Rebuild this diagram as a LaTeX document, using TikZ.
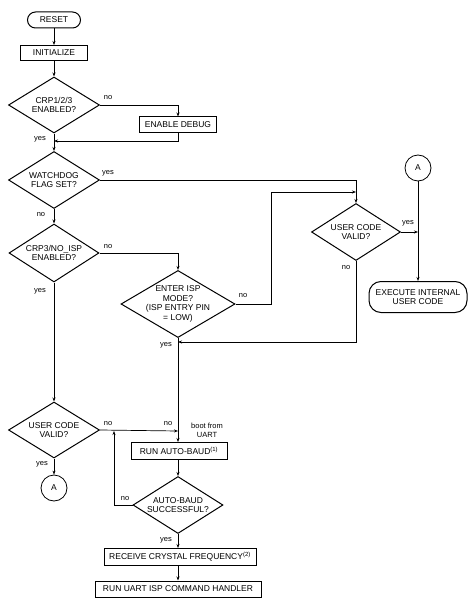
\documentclass[tikz,border=0pt]{standalone}
\usepackage{fontspec}
\setmainfont{Liberation Sans}
\usetikzlibrary{shapes.geometric,arrows.meta}

\begin{document}
\begin{tikzpicture}[x=1pt,y=-1pt,
  >={Stealth[length=4pt,width=3pt]},
  font=\fontsize{8.5}{9.7}\selectfont,
  box/.style={draw,line width=1pt,minimum height=16pt,inner sep=0pt},
  terminal/.style={draw,line width=1pt,rounded corners=8pt,inner sep=0pt,align=center},
  decision/.style={draw,diamond,aspect=1.6,line width=1pt,inner sep=0pt,align=center},
  connector/.style={draw,circle,line width=0.8pt,minimum size=26pt,inner sep=0pt},
  flow/.style={->,line width=0.7pt},
  tag/.style={font=\fontsize{7.5}{9}\selectfont,inner sep=0pt}]
\useasboundingbox (0,0) rectangle (474,604);

% Main column
\node[terminal,minimum width=53pt,minimum height=16pt] (reset) at (54,20) {RESET};
\node[box,minimum width=67pt,minimum height=15pt] (init) at (54,53) {INITIALIZE};
\node[decision,minimum width=91pt,minimum height=56pt] (crp) at (54,105) {CRP1/2/3\\ENABLED?};
\node[box,minimum width=77pt] (debug) at (178,125) {ENABLE DEBUG};
\node[decision,minimum width=91pt,minimum height=57pt] (wdog) at (54,180) {WATCHDOG\\FLAG SET?};
\node[decision,minimum width=90pt,minimum height=58pt] (crp3) at (54,253) {CRP3/NO\_ISP\\ENABLED?};
\node[decision,inner sep=-3pt,minimum width=114pt,minimum height=66pt] (isp) at (178,304) {ENTER ISP\\MODE?\\(ISP ENTRY PIN\\= LOW)};
\node[decision,minimum width=91pt,minimum height=56pt] (ucleft) at (54,430) {USER CODE\\VALID?};
\node[connector] (aleft) at (54,488) {A};

% Right column
\node[decision,minimum width=89pt,minimum height=57pt] (ucright) at (356,232) {USER CODE\\VALID?};
\node[connector] (aright) at (418,168) {A};
\node[terminal,minimum width=98pt,minimum height=31pt,rounded corners=12pt] (exec) at (418,297) {EXECUTE INTERNAL\\USER CODE};

% UART boot
\node[box,minimum width=96pt,minimum height=17pt] (autobaud) at (179,451) {RUN AUTO-BAUD\textsuperscript{(1)}};
\node[decision,minimum width=90pt,minimum height=57pt] (abok) at (178,505) {AUTO-BAUD\\SUCCESSFUL?};
\node[box,minimum width=152pt,minimum height=17pt] (crystal) at (180,557) {RECEIVE CRYSTAL FREQUENCY\textsuperscript{(2)}};
\node[box,minimum width=166pt] (handler) at (178,589) {RUN UART ISP COMMAND HANDLER};

% Junctions
\coordinate (crpjoin) at (54,141);
\coordinate (ispturn) at (271,304);
\coordinate (ucjoin) at (356,192);
\coordinate (ispmerge) at (178,342);
\coordinate (execjoin) at (418,232);
\coordinate (uartjoin) at (178,431);
\coordinate (abjoin) at (114,431);

% Straight arrows
\foreach \a/\b in {reset/init,init/crp,crp/wdog,wdog/crp3,crp3/ucleft,ucleft/aleft,aright/exec}
  \draw[flow] (\a) -- (\b);
\draw[flow] (isp.south) -- (isp.south |- autobaud.north);
\draw[flow] (autobaud.south -| abok.north) -- (abok.north);
\draw[flow] (abok.south) -- (abok.south |- crystal.north);
\draw[flow] (crystal.south -| handler.north) -- (handler.north);

% Branches
\draw[flow] (crp.east) -| (debug.north);
\draw[flow] (debug.south) |- (crpjoin);
\draw[flow] (wdog.east) -| (ucright.north);
\draw[flow] (crp3.east) -| (isp.north);
\draw[flow] (isp.east) -- (ispturn) |- (ucjoin);
\draw[flow] (ucright.south) |- (ispmerge);
\draw[flow] (ucright.east) -- (execjoin);
\draw[flow] (ucleft.east) -- (uartjoin);
\draw[flow] (abok.west) -| (abjoin);

% Labels
\node[tag] (crpno) at (108,98) {no};
\node[tag] (crpyes) at (40,139) {yes};
\node[tag] (wdogyes) at (108,173) {yes};
\node[tag] (wdogno) at (41,215) {no};
\node[tag] (crp3no) at (108,247) {no};
\node[tag] (crp3yes) at (40,291) {yes};
\node[tag] (ispno) at (243,296) {no};
\node[tag] (ispyes) at (166,345) {yes};
\node[tag] (ucrightyes) at (408,223) {yes};
\node[tag] (ucrightno) at (346,268) {no};
\node[tag] (ucleftno) at (108,424) {no};
\node[tag] (uartno) at (168,424) {no};
\node[tag,align=center] (boot) at (207,430) {boot from\\UART};
\node[tag] (ucleftyes) at (42,464) {yes};
\node[tag] (abno) at (125,499) {no};
\node[tag] (abyes) at (166,540) {yes};
\end{tikzpicture}
\end{document}
